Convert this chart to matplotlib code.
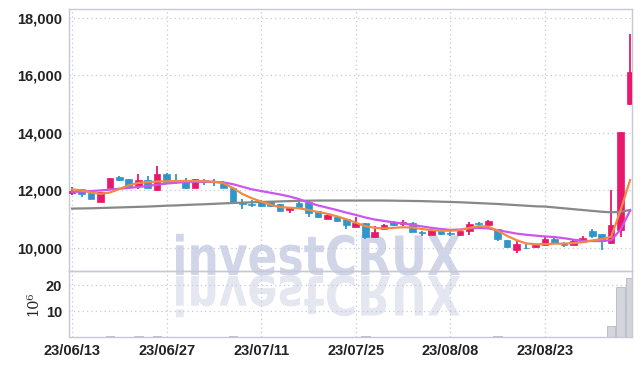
import numpy as np
import matplotlib
matplotlib.use("Agg")
import matplotlib.pyplot as plt
from matplotlib.textpath import TextPath
from matplotlib.patches import PathPatch
from matplotlib.font_manager import FontProperties
from matplotlib.transforms import Affine2D, IdentityTransform
from matplotlib.ticker import FuncFormatter

# daily candles, 60 trading days (KRW)
opens = [11920, 12040, 11900, 11610, 12100, 12480, 12390, 12160, 12360, 12020,
         12570, 12340, 12360, 12100, 12360, 12310, 12270, 12090, 11600, 11540,
         11650, 11630, 11530, 11320, 11550, 11610, 11270, 11020, 11090, 11000,
         10740, 10860, 10370, 10650, 10900, 10820, 10860, 10570, 10460, 10600,
         10510, 10460, 10600, 10880, 10810, 10650, 10280, 9930, 10010, 10020,
         10120, 10320, 10180, 10120, 10220, 10590, 10490, 10160, 10630, 15010]
highs = [12130, 12050, 11910, 11960, 12430, 12500, 12400, 12570, 12500, 12850,
         12590, 12570, 12420, 12400, 12410, 12410, 12320, 12100, 11690, 11670,
         11660, 11640, 11540, 11420, 11670, 11620, 11280, 11160, 11120, 11010,
         11090, 10870, 10770, 10850, 10930, 10970, 10910, 10580, 10650, 10620,
         10600, 10650, 10900, 10900, 10990, 10660, 10290, 10280, 10160, 10130,
         10370, 10330, 10200, 10270, 10400, 10650, 10500, 12020, 14020, 17430]
lows = [11850, 11760, 11690, 11600, 12090, 12330, 12100, 12040, 12070, 11990,
        12270, 12230, 12040, 12090, 12200, 12160, 12080, 11530, 11350, 11440,
        11440, 11430, 11280, 11230, 11400, 11090, 11030, 11000, 10900, 10670,
        10730, 10300, 10360, 10610, 10760, 10760, 10560, 10420, 10450, 10450,
        10420, 10420, 10460, 10800, 10780, 10230, 9990, 9840, 9980, 9990,
        10070, 10170, 10050, 10110, 10190, 10360, 9930, 10150, 10390, 14970]
closes = [11980, 11870, 11700, 11950, 12420, 12380, 12110, 12360, 12080, 12570,
          12280, 12300, 12100, 12390, 12280, 12280, 12090, 11600, 11530, 11510,
          11460, 11460, 11300, 11410, 11410, 11210, 11090, 11140, 10950, 10810,
          10880, 10370, 10570, 10790, 10790, 10900, 10570, 10520, 10630, 10470,
          10470, 10600, 10830, 10820, 10950, 10300, 10020, 10140, 9990, 10120,
          10300, 10190, 10120, 10250, 10340, 10400, 10260, 10790, 14020, 16130]
volumes = [0.08, 0.06, 0.07, 0.08, 0.35, 0.05, 0.07, 0.30, 0.08, 0.40,
           0.09, 0.05, 0.07, 0.08, 0.05, 0.04, 0.06, 0.35, 0.10, 0.05,
           0.06, 0.05, 0.08, 0.05, 0.06, 0.12, 0.07, 0.05, 0.06, 0.09,
           0.07, 0.30, 0.10, 0.08, 0.05, 0.06, 0.09, 0.05, 0.06, 0.05,
           0.04, 0.06, 0.10, 0.05, 0.08, 0.35, 0.12, 0.10, 0.05, 0.06,
           0.08, 0.06, 0.05, 0.07, 0.08, 0.09, 0.12, 4.2, 19.1, 22.6]

ma_short = [12040, 12000, 11930, 11880, 11930, 12050, 12180, 12260, 12290, 12310,
            12320, 12330, 12330, 12330, 12320, 12300, 12250, 12090, 11880, 11730,
            11610, 11500, 11420, 11400, 11380, 11320, 11250, 11190, 11100, 11000,
            10880, 10760, 10700, 10680, 10700, 10720, 10710, 10660, 10620, 10600,
            10600, 10620, 10700, 10760, 10740, 10600, 10420, 10270, 10160, 10130,
            10130, 10150, 10150, 10170, 10200, 10260, 10310, 10390, 11320, 12360]
ma_mid = [11950, 11960, 11980, 12000, 12030, 12060, 12090, 12120, 12160, 12200,
          12240, 12270, 12290, 12300, 12300, 12300, 12280, 12220, 12130, 12040,
          11980, 11920, 11860, 11790, 11700, 11580, 11480, 11400, 11320, 11230,
          11150, 11060, 10990, 10940, 10890, 10850, 10800, 10750, 10700, 10660,
          10630, 10640, 10680, 10700, 10680, 10620, 10560, 10500, 10460, 10430,
          10400, 10380, 10340, 10290, 10250, 10240, 10240, 10270, 10640, 11300]
ma_long = [11370, 11375, 11380, 11390, 11400, 11410, 11420, 11430, 11440, 11455,
           11470, 11480, 11495, 11510, 11520, 11535, 11550, 11565, 11575, 11590,
           11600, 11610, 11620, 11630, 11640, 11645, 11650, 11650, 11650, 11650,
           11650, 11650, 11650, 11650, 11645, 11640, 11635, 11630, 11620, 11610,
           11600, 11590, 11575, 11560, 11545, 11530, 11510, 11490, 11470, 11450,
           11440, 11410, 11380, 11350, 11320, 11290, 11260, 11240, 11260, 11320]

tick_idx = [0, 10, 20, 30, 40, 50]
tick_labels = ["23/06/13", "23/06/27", "23/07/11", "23/07/25", "23/08/08", "23/08/23"]

UP = "#e8186b"
DOWN = "#2e96c8"
GRID = "#c4c8de"
SPINE = "#c8c8d4"
TXT = "#222222"

plt.rcParams["font.family"] = ["Liberation Sans", "DejaVu Sans"]
plt.rcParams["font.weight"] = "bold"
plt.rcParams["xtick.labelsize"] = 10.5
plt.rcParams["ytick.labelsize"] = 10.5

fig = plt.figure(figsize=(6.42, 3.66), dpi=100)
fig.patch.set_facecolor("white")
ax = fig.add_axes([0.1075, 0.2596, 0.8769, 0.7158])
axv = fig.add_axes([0.1075, 0.0792, 0.8769, 0.1804], sharex=ax)

x = np.arange(len(closes))
o = np.array(opens); c = np.array(closes)
h = np.array(highs); l = np.array(lows)
col = [UP if cc >= oo else DOWN for oo, cc in zip(o, c)]

ax.vlines(x, l, h, colors=col, linewidth=1.3, zorder=3)
ax.bar(x, np.maximum(np.abs(c - o), 25), bottom=np.minimum(o, c), width=0.7,
       color=col, edgecolor=col, linewidth=0.5, zorder=4)

ax.plot(x, ma_long, color="#888888", lw=1.6, zorder=5)
ax.plot(x, ma_mid, color="#cc55ee", lw=1.6, zorder=6)
ax.plot(x, ma_short, color="#f08a45", lw=1.6, zorder=7)

axv.bar(x, volumes, width=0.9, color="#d4d4dc", edgecolor="#b8b8c4", linewidth=0.6)

ax.set_ylim(9200, 18310)
ax.set_yticks([10000, 12000, 14000, 16000, 18000])
ax.yaxis.set_major_formatter(FuncFormatter(lambda v, p: f"{int(v):,}"))
ax.set_xlim(-0.32, 59.2)
axv.set_ylim(0, 25.4)
axv.set_yticks([10, 20])
axv.set_xticks(tick_idx)
axv.set_xticklabels(tick_labels)
ax.tick_params(labelbottom=False)
axv.set_ylabel("10\u2076", family="DejaVu Serif", fontsize=10.5,
               fontweight="normal", color=TXT, labelpad=4)

for a in (ax, axv):
    a.set_facecolor("none")
    a.grid(True, color=GRID, linestyle=(0, (1, 2.5)), linewidth=0.9)
    a.set_axisbelow(True)
    a.tick_params(length=0, pad=5, labelcolor=TXT)
    for s in a.spines.values():
        s.set_color(SPINE)
        s.set_linewidth(1.0)

# watermark with reflection (drawn behind both axes, pixel coords)
fp = FontProperties(family="DejaVu Sans", weight="bold")
tp = TextPath((0, 0), "investCRUX", size=1, prop=fp)
ext = tp.get_extents()
sx = 284 / ext.width
sy = 42 / ext.height
H = 366
base = H - 275
t_main = Affine2D().translate(-ext.x0, 0).scale(sx, sy).translate(176, base)
t_ref = Affine2D().translate(-ext.x0, 0).scale(sx, -sy).translate(176, base - 1)
fig.add_artist(PathPatch(t_main.transform_path(tp), transform=IdentityTransform(),
                         facecolor="#d0d5e8", edgecolor="none", zorder=-1))
fig.add_artist(PathPatch(t_ref.transform_path(tp), transform=IdentityTransform(),
                         facecolor="#e4e6f0", edgecolor="none", zorder=-1))

fig.savefig("out.png", dpi=100)
